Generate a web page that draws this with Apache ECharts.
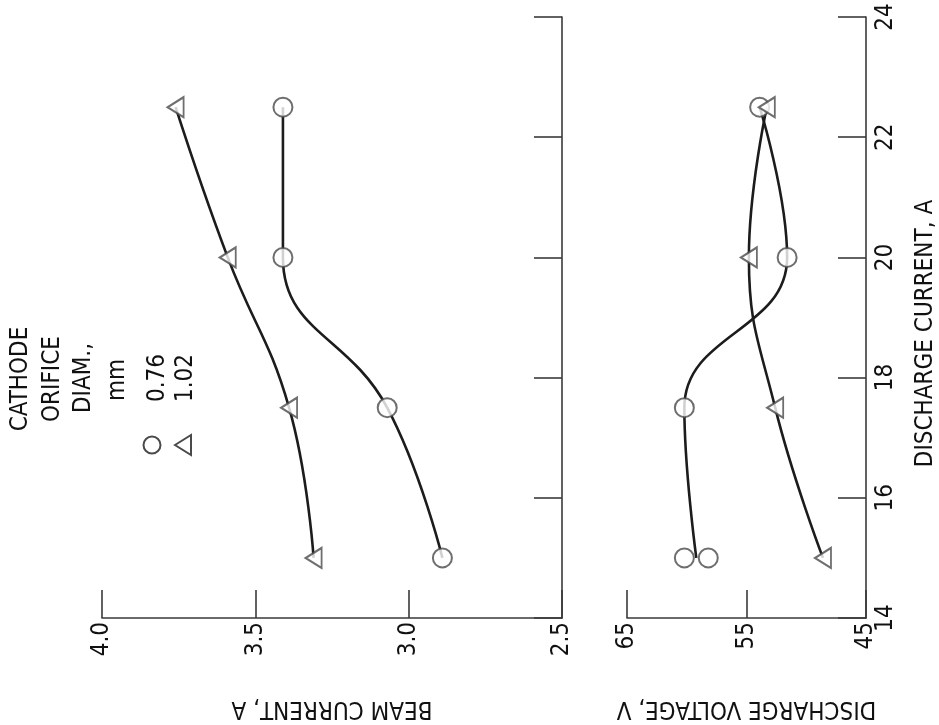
<!DOCTYPE html>
<html><head><meta charset="utf-8">
<script src="https://cdn.jsdelivr.net/npm/echarts@6/dist/echarts.min.js"></script>
<style>html,body{margin:0;padding:0;background:#fff}#c{width:939px;height:725px}</style>
</head><body><div id="c"></div>
<script>
// Discharge current, A (shared axis)
const dischargeCurrent = [15, 17.5, 20, 22.5];
// Beam current, A
const beam076 = [2.89, 3.07, 3.41, 3.41];
const beam102 = [3.31, 3.39, 3.59, 3.76];
// Discharge voltage, V
const volt076 = [60.2, 60.2, 51.6, 53.9];
const volt076Repeat = [58.2]; // second reading at 15 A
const volt102 = [48.6, 52.6, 54.8, 53.3];
// Axis ranges
const dcRange = [14, 24, 2];
const beamRange = [2.5, 4.0, 0.5];
const voltRange = [45, 65, 10];

const FONT = '"Liberation Sans Narrow","DejaVu Sans Condensed","Liberation Sans",sans-serif';
const INK = '#111';
const AX = '#3a3a3a';

const pairs = (xs, ys) => ys.map((v, i) => [v, xs[i]]);
const volt076Line = volt076.map((v, i) => i === 0 ? (v + volt076Repeat[0]) / 2 : v);

const chart = echarts.init(document.getElementById('c'));

function valueAxis(idx, range, name, fmt) {
  return {
    type: 'value', gridIndex: idx, min: range[0], max: range[1], interval: range[2],
    inverse: true, position: 'bottom',
    name: name, nameLocation: 'middle', nameGap: 78, nameRotate: 180,
    nameTextStyle: { fontFamily: FONT, fontSize: 24, color: INK },
    axisLine: { show: true, lineStyle: { color: AX, width: 1.6 } },
    axisTick: { show: true, inside: true, length: 28, lineStyle: { color: AX, width: 1.6 } },
    axisLabel: { rotate: 90, margin: 4, fontFamily: FONT, fontSize: 24, color: INK, formatter: fmt },
    splitLine: { show: false }
  };
}
function dcAxis(idx, labels) {
  return {
    type: 'value', gridIndex: idx, min: dcRange[0], max: dcRange[1], interval: dcRange[2],
    position: 'right',
    name: labels ? 'DISCHARGE CURRENT, A' : '', nameLocation: 'middle', nameGap: 48, nameRotate: 90,
    nameTextStyle: { fontFamily: FONT, fontSize: 24, color: INK, padding: [0, 32, 0, 0] },
    axisLine: { show: true, lineStyle: { color: AX, width: 1.6 } },
    axisTick: { show: true, inside: true, length: 28, lineStyle: { color: AX, width: 1.6 } },
    axisLabel: { show: labels, rotate: 90, margin: 8, fontFamily: FONT, fontSize: 24, color: INK },
    splitLine: { show: false }
  };
}

const lineStyle = { color: '#1c1c1c', width: 2.6 };
function curve(xi, data) {
  return { type: 'line', xAxisIndex: xi, yAxisIndex: xi, data: data, smooth: 0.45,
    symbol: 'none', lineStyle: lineStyle, z: 2, silent: true };
}
const markerStyle = { color: '#fff', borderColor: '#4a4a4a', borderWidth: 2 };
function circles(xi, data) {
  return { type: 'scatter', xAxisIndex: xi, yAxisIndex: xi, data: data, symbol: 'circle',
    symbolSize: 19, itemStyle: markerStyle, z: 3 };
}
function triangles(xi, data) {
  return { type: 'scatter', xAxisIndex: xi, yAxisIndex: xi, data: data, symbol: 'triangle',
    symbolSize: [20, 16], symbolRotate: 90, itemStyle: markerStyle, z: 3 };
}

const txt = (x, y, t, align) => ({
  type: 'text', x: x, y: y, rotation: Math.PI / 2,
  style: { text: t, fontFamily: FONT, fontSize: 24, fill: INK, align: align || 'center', verticalAlign: 'middle' }
});

chart.setOption({
  animation: false,
  backgroundColor: '#fff',
  grid: [
    { left: 102, right: 377, top: 17, bottom: 99 },
    { left: 627, right: 67, top: 17, bottom: 99 }
  ],
  xAxis: [
    valueAxis(0, beamRange, 'BEAM CURRENT, A', v => v.toFixed(1)),
    valueAxis(1, voltRange, 'DISCHARGE VOLTAGE, V', v => String(v))
  ],
  yAxis: [dcAxis(0, false), dcAxis(1, true)],
  series: [
    curve(0, pairs(dischargeCurrent, beam076)),
    curve(0, pairs(dischargeCurrent, beam102)),
    curve(1, pairs(dischargeCurrent, volt076Line)),
    curve(1, pairs(dischargeCurrent, volt102)),
    circles(0, pairs(dischargeCurrent, beam076)),
    triangles(0, pairs(dischargeCurrent, beam102)),
    circles(1, pairs(dischargeCurrent, volt076).concat(pairs(dischargeCurrent, volt076Repeat))),
    triangles(1, pairs(dischargeCurrent, volt102))
  ],
  graphic: [
    txt(21, 379, 'CATHODE'),
    txt(53, 379, 'ORIFICE'),
    txt(84, 378, 'DIAM.,'),
    txt(118, 380, 'mm'),
    txt(158, 402, '0.76', 'left'),
    txt(186, 402, '1.02', 'left'),
    { type: 'circle', shape: { cx: 152, cy: 445, r: 8.5 }, style: { fill: '#fff', stroke: '#4a4a4a', lineWidth: 2 } },
    { type: 'polygon', shape: { points: [[175, 445], [191, 435], [191, 455]] }, style: { fill: '#fff', stroke: '#4a4a4a', lineWidth: 2 } }
  ]
});
</script></body></html>
